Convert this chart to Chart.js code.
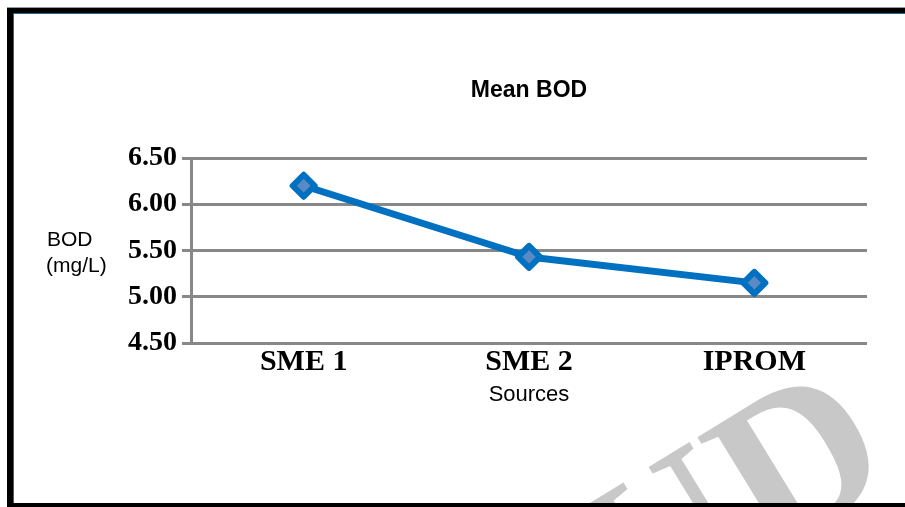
<!DOCTYPE html>
<html>
<head>
<meta charset="utf-8">
<script src="https://cdn.jsdelivr.net/npm/chart.js@4.4.1/dist/chart.umd.min.js"></script>
<style>
  html, body { margin: 0; padding: 0; background: #ffffff; }
  #wrap { position: relative; width: 905px; height: 507px; overflow: hidden; }
  #chart { position: absolute; left: 0; top: 0; }
  .frame { position: absolute; background: #000; pointer-events: none; }
</style>
</head>
<body>
<div id="wrap">
  <canvas id="chart" width="905" height="507"></canvas>
  <!-- page frame around the chart -->
  <div class="frame" style="left:7px; top:7px; width:898px; height:1px; background:#9a9a9a;"></div>
  <div class="frame" style="left:7px; top:8px; width:898px; height:6px;"></div>
  <div class="frame" style="left:14px; top:13px; width:891px; height:1px; background:#1d6f86;"></div>
  <div class="frame" style="left:7px; top:8px; width:7px; height:499px;"></div>
  <div class="frame" style="left:13px; top:13px; width:1px; height:490px; background:#1d6f86;"></div>
  <div class="frame" style="left:7px; top:503px; width:898px; height:4px;"></div>
</div>
<script>
// Mean BOD per source
const categories = ['SME 1', 'SME 2', 'IPROM'];
const bodValues = [6.20, 5.43, 5.15];
const yTicks = [4.5, 5.0, 5.5, 6.0, 6.5];

const chartTitle = 'Mean BOD';
const yTitleLines = ['BOD', '(mg/L)'];
const xTitle = 'Sources';

const GRID = '#888888';
const BLUE = '#0070C0';

// Extra texts and the faint background lettering
const decorations = {
  id: 'decorations',
  beforeDraw(chart) {
    const ctx = chart.ctx;
    ctx.save();
    ctx.fillStyle = '#ffffff';
    ctx.fillRect(0, 0, chart.width, chart.height);
    // background lettering, clipped to the framed page
    ctx.beginPath();
    ctx.rect(14, 14, 891, 489);
    ctx.clip();
    ctx.translate(900, 478);
    ctx.rotate(-0.55);
    ctx.fillStyle = '#c8c8c8';
    ctx.font = 'bold 215px "Liberation Serif"';
    ctx.textAlign = 'right';
    ctx.textBaseline = 'alphabetic';
    ctx.fillText('UD', 0, 0);
    ctx.restore();
  },
  afterDraw(chart) {
    const ctx = chart.ctx;
    const area = chart.chartArea;
    const cx = (area.left + area.right) / 2;
    ctx.save();
    ctx.fillStyle = '#000000';
    ctx.textBaseline = 'alphabetic';
    ctx.textAlign = 'center';
    ctx.font = 'bold 23px "Liberation Sans", Arial, sans-serif';
    ctx.fillText(chartTitle, cx, 97);
    ctx.font = '22px "Liberation Sans", Arial, sans-serif';
    ctx.fillText(xTitle, cx, 401);
    ctx.textAlign = 'left';
    ctx.font = '21px "Liberation Sans", Arial, sans-serif';
    ctx.fillText(yTitleLines[0], 47, 246);
    ctx.fillText(yTitleLines[1], 46, 272);
    ctx.restore();
  },
  beforeDatasetDraw(chart) {
    chart.ctx.save();
    chart.ctx.lineJoin = 'round';
  },
  afterDatasetDraw(chart) {
    chart.ctx.restore();
  }
};

new Chart(document.getElementById('chart'), {
  type: 'line',
  data: {
    labels: categories,
    datasets: [{
      label: 'Mean BOD',
      data: bodValues,
      borderColor: BLUE,
      borderWidth: 7,
      borderJoinStyle: 'round',
      borderCapStyle: 'round',
      tension: 0,
      pointStyle: 'rectRot',
      pointRadius: 11,
      pointHoverRadius: 11,
      pointBorderWidth: 6,
      pointBorderColor: BLUE,
      pointBackgroundColor: '#5a89c4'
    }]
  },
  options: {
    responsive: false,
    animation: false,
    events: [],
    layout: { padding: { left: 0, top: 158, right: 38, bottom: 0 } },
    plugins: {
      legend: { display: false },
      title: { display: false },
      tooltip: { enabled: false }
    },
    scales: {
      x: {
        type: 'category',
        offset: true,
        grid: { display: false, drawTicks: false },
        border: { display: false },
        ticks: {
          color: '#000000',
          padding: 1,
          maxRotation: 0,
          font: { family: '"Liberation Serif", "Times New Roman", serif', size: 30, weight: 'bold' }
        },
        afterFit(scale) { scale.height = 164; }
      },
      y: {
        min: 4.5,
        max: 6.5,
        afterBuildTicks(scale) { scale.ticks = yTicks.map(v => ({ value: v })); },
        grid: { color: GRID, lineWidth: 3, tickLength: 9, tickColor: GRID, tickWidth: 3 },
        border: { display: true, color: GRID, width: 3 },
        ticks: {
          color: '#000000',
          padding: 5,
          font: { family: '"Liberation Serif", "Times New Roman", serif', size: 28, weight: 'bold' },
          callback: v => Number(v).toFixed(2)
        },
        afterFit(scale) { scale.width = 191; }
      }
    }
  },
  plugins: [decorations]
});
</script>
</body>
</html>
